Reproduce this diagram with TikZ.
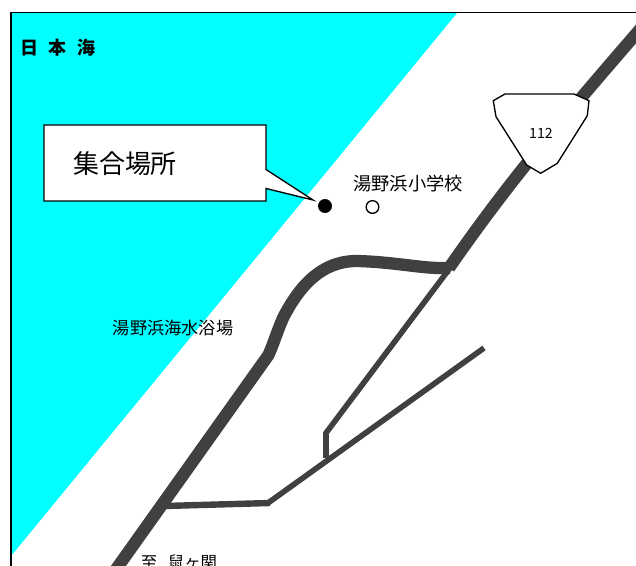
\documentclass[tikz,border=0pt]{standalone}
\usepackage{fontspec}
\setmainfont{Liberation Sans}
\newfontfamily\jpfont{Noto Sans CJK JP}
\newfontfamily\jpbold{Noto Sans CJK JP Black}
\definecolor{roadgray}{HTML}{404040}
\definecolor{seacyan}{HTML}{00FFFF}
\tikzset{
  px/.style={x=0.75pt,y=-0.75pt},
  wide road/.style={draw=roadgray,line width=9.2pt},
  mid road/.style={draw=roadgray,line width=4.2pt},
  thin road/.style={draw=roadgray,line width=4.2pt},
  label/.style={inner sep=0pt,font=\jpfont\fontsize{12.9pt}{15pt}\selectfont},
  outline/.style={draw=black,line width=1pt,line join=miter}
}
\begin{document}
\begin{tikzpicture}[px]
\useasboundingbox (0,0) rectangle (636,566);
\clip (0,0) rectangle (636,566);
\fill[white] (0,0) rectangle (636,566);
% sea
\fill[seacyan] (11,13) -- (457,13) -- (11,556) -- cycle;
% frame
\draw[black,line width=1.1pt] (11,580) -- (11,12.5) -- (640,12.5);
% side roads
\draw[thin road] (453,264) -- (326,433) -- (326,458);
\draw[mid road] (484,348) -- (268,503);
\draw[mid road,line width=4.8pt] (270,503) -- (165,506);
% main road
\draw[wide road] (642,27) .. controls (560,122) and (510,180) .. (449,268);
\draw[wide road,line join=round] (450,268) -- (440,268)
  .. controls (420,268) and (393,262) .. (357,261)
  .. controls (322,261) and (300,285) .. (283,318)
  .. controls (277,332) and (273,345) .. (268.5,355)
  -- (112,575);
% shield
\draw[outline,fill=white] (493.3,100.7) -- (505,94) -- (574,94) -- (589,100.7) -- (587.3,115.7)
  -- (557.3,163.3) -- (540.7,173.3) -- (526.7,165) -- (496,116.7) -- cycle;
\node[inner sep=0pt,font=\jpfont\fontsize{10.6pt}{12pt}\selectfont] (shieldnum) at (541,133.5) {112};
% callout
\draw[outline,fill=white] (44,125) -- (266,125) -- (266,169.5) -- (313,200) -- (266,188.5) -- (266,201) -- (44,201) -- cycle;
\node[inner sep=0pt,font=\jpfont\fontsize{19.5pt}{22pt}\selectfont] (gather) at (125,164) {集合場所};
% points
\node[circle,fill=black,draw=black,minimum size=10pt,inner sep=0pt] (meet) at (325,206) {};
\node[circle,fill=white,draw=black,line width=1pt,minimum size=9.5pt,inner sep=0pt] (school) at (372.5,207) {};
% labels
\node[label,font=\jpfont\fontsize{13.7pt}{15pt}\selectfont] (schoollabel) at (408,184) {湯野浜小学校};
\node[label] (beach) at (173,328) {湯野浜海水浴場};
\node[inner sep=0pt,font=\jpbold\fontsize{13.5pt}{15pt}\selectfont] (sea) at (58,48) {日\hspace{8pt}本\hspace{8pt}海};
\node[label,font=\jpfont\fontsize{12.3pt}{15pt}\selectfont] (dest) at (179,562) {至\hspace{8pt}鼠ヶ関};
\end{tikzpicture}
\end{document}
